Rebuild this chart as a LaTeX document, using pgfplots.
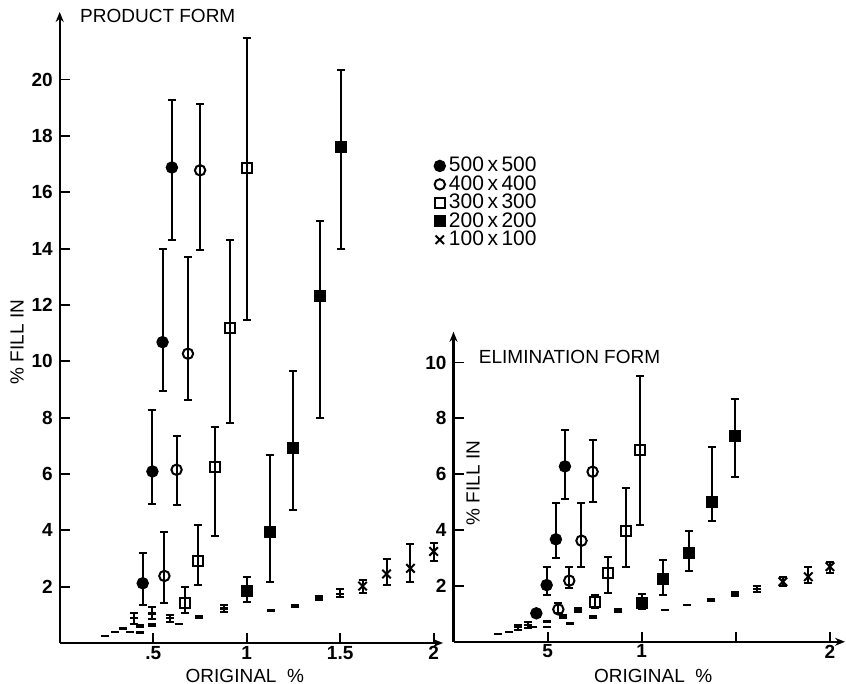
\documentclass[border=0pt]{standalone}
\usepackage{fontspec}
\setmainfont{Liberation Sans}
\usepackage{pgfplots}
\usepackage{pgfplotstable}
\pgfplotsset{compat=1.18}
\usetikzlibrary{arrows.meta}

% left panel: product form
\pgfplotstableread{
x y ep em
0.444 2.12 1.09 0.77
0.496 6.09 2.19 1.15
0.55 10.68 3.32 1.75
0.60 16.88 2.41 2.59
}\La
\pgfplotstableread{
x y ep em
0.56 2.38 1.57 0.97
0.625 6.15 1.20 1.26
0.686 10.27 3.45 1.66
0.751 16.78 2.34 2.84
}\Lb
\pgfplotstableread{
x y ep em
0.671 1.41 0.57 0.36
0.742 2.91 1.28 0.85
0.828 6.24 1.42 2.43
0.912 11.18 3.14 3.38
1.0 16.86 4.60 5.41
}\Lc
\pgfplotstableread{
x y ep em
1.0 1.86 0.50 0.41
1.123 3.95 2.73 1.77
1.25 6.92 2.74 2.20
1.394 12.33 2.66 4.33
1.507 17.61 2.72 3.62
}\Ld
\pgfplotstableread{
x y ep em
1.62 2.02 0.22 0.23
1.748 2.45 0.52 0.39
1.876 2.65 0.87 0.47
2.0 3.25 0.29 0.33
}\Le
\pgfplotstableread{
x y ep em
0.243 0.25 0 0
0.296 0.40 0 0
0.336 0.52 0 0
0.377 0.40 0 0
0.40 0.88 0.17 0.21
0.427 0.37 0 0
0.43 0.60 0.03 0.03
0.496 0.64 0.05 0.05
0.496 1.05 0.24 0.21
0.59 0.88 0.11 0.12
0.636 0.67 0 0
0.746 0.91 0.04 0.04
0.88 1.23 0.12 0.12
1.13 1.15 0 0
1.26 1.31 0.03 0.03
1.385 1.59 0.07 0.07
1.50 1.74 0.17 0.12
}\Lf

% right panel: elimination form
\pgfplotstableread{
x y ep em
0.44 1.02 0.12 0.12
0.495 2.03 0.64 0.35
0.544 3.67 1.29 0.68
0.592 6.28 1.31 1.17
}\Ra
\pgfplotstableread{
x y ep em
0.557 1.16 0.22 0.14
0.615 2.19 0.50 0.27
0.68 3.62 1.34 0.95
0.739 6.09 1.12 1.10
}\Rb
\pgfplotstableread{
x y ep em
0.751 1.44 0.24 0.24
0.822 2.45 0.58 0.71
0.914 3.98 1.52 1.29
0.99 6.87 2.63 2.68
}\Rc
\pgfplotstableread{
x y ep em
1.0 1.40 0.31 0.24
1.114 2.24 0.69 0.56
1.252 3.17 0.81 0.63
1.374 5.00 1.97 0.66
1.495 7.38 1.31 1.48
}\Rd
\pgfplotstableread{
x y ep em
1.75 2.15 0.18 0.17
1.885 2.33 0.34 0.23
2.0 2.69 0.18 0.24
}\Re
\pgfplotstableread{
x y ep em
0.238 0.28 0 0
0.297 0.36 0 0
0.344 0.52 0.08 0.08
0.397 0.60 0.1 0.1
0.424 0.54 0 0
0.495 0.72 0 0
0.495 0.54 0 0
0.583 0.90 0.05 0.05
0.619 0.66 0 0
0.663 1.14 0.08 0.08
0.743 0.88 0.04 0.04
0.876 1.11 0.05 0.05
1.124 1.14 0 0
1.24 1.32 0 0
1.37 1.50 0.03 0.03
1.495 1.71 0.08 0.08
1.614 1.88 0.1 0.1
}\Rf

\pgfplotsset{
  panel/.style={
    scale only axis,
    axis lines=left,
    axis line style={line width=1.1pt, -{Stealth[length=5pt,width=4pt]}},
    tick align=inside,
    major tick length=5pt,
    tick style={line width=0.9pt, black},
    xmin=0,
    ymin=0,
    font=\fontsize{9.5}{11}\selectfont,
    ticklabel style={font=\fontsize{9.5}{11}\selectfont\bfseries},
    xticklabel style={yshift=2pt},
    /pgf/number format/assume math mode=true,
    clip=false,
    legend cell align=left,
    every axis title shift=0pt,
    title style={yshift=0pt, anchor=west, font=\fontsize{9.5}{11}\selectfont},
    xlabel style={yshift=0pt, anchor=center},
    ylabel style={xshift=0pt, anchor=center},
  },
  ebar/.style={
    only marks,
    line width=1pt,
    error bars/y dir=both,
    error bars/y explicit,
    error bars/error bar style={line width=1pt, black},
    error bars/error mark options={rotate=90, mark size=2pt, line width=1pt, black},
  },
  s500/.style={ebar, mark=*, mark size=2.6pt, mark options={fill=black, draw=black}},
  s400/.style={ebar, mark=o, mark size=2.6pt, mark options={fill=white, draw=black, line width=1pt}},
  s300/.style={ebar, mark=square, mark size=2.5pt, mark options={fill=white, draw=black, line width=1pt}},
  s200/.style={ebar, mark=square*, mark size=2.5pt, mark options={fill=black, draw=black}},
  s100/.style={ebar, mark=x, mark size=3pt, mark options={draw=black, line width=1pt}},
  sdash/.style={ebar, mark=-, mark size=2pt, mark options={draw=black, line width=1.2pt}},
}

\begin{document}
\begin{tikzpicture}[x=1pt,y=1pt]
\useasboundingbox (0,0) rectangle (423,342);

\begin{axis}[
  panel,
  at={(29.85pt,20.5pt)}, anchor=origin,
  width=191.65pt, height=315.5pt,
  xmax=2.05, ymax=22.4,
  xtick={0.5,1,1.5,2},
  xticklabels={.5,1,1.5,2},
  ytick={2,4,...,20},
  title={PRODUCT FORM},
  title style={at={(rel axis cs:0.035,0.994)}},
  xlabel={ORIGINAL\ \ \%},
  xlabel style={at={(rel axis cs:0.483,-0.052)}},
  ylabel={\%\ FILL IN},
  ylabel style={at={(rel axis cs:-0.111,0.477)}},
  legend style={at={(rel axis cs:0.977,0.777)}, anchor=north west, draw=none, fill=none,
    font=\fontsize{10.5}{11}\selectfont, row sep=-3.6pt, inner sep=0pt,
    /tikz/every even column/.append style={column sep=3pt}},
  legend image code/.code={\draw[#1] plot coordinates {(0.12cm,0cm)};},
]
\addplot[s500] table[x=x,y=y,y error plus=ep,y error minus=em]{\La};
\addplot[s400] table[x=x,y=y,y error plus=ep,y error minus=em]{\Lb};
\addplot[s300] table[x=x,y=y,y error plus=ep,y error minus=em]{\Lc};
\addplot[s200] table[x=x,y=y,y error plus=ep,y error minus=em]{\Ld};
\addplot[s100] table[x=x,y=y,y error plus=ep,y error minus=em]{\Le};
\addplot[sdash, forget plot] table[x=x,y=y,y error plus=ep,y error minus=em]{\Lf};
\legend{500\,x\,500, 400\,x\,400, 300\,x\,300, 200\,x\,200, 100\,x\,100}
\end{axis}

\begin{axis}[
  panel,
  at={(226.75pt,21.1pt)}, anchor=origin,
  width=195.75pt, height=155pt,
  xmax=2.08, ymax=11.1,
  xtick={0.5,1,1.5,2},
  xticklabels={5,1,,2},
  ytick={2,4,...,10},
  title={ELIMINATION FORM},
  title style={at={(rel axis cs:0.047,0.919)}},
  xlabel={ORIGINAL\ \ \%},
  xlabel style={at={(rel axis cs:0.51,-0.110)}},
  ylabel={\%\ FILL IN},
  ylabel style={at={(rel axis cs:0.05,0.512)}},
]
\addplot[s500] table[x=x,y=y,y error plus=ep,y error minus=em]{\Ra};
\addplot[s400] table[x=x,y=y,y error plus=ep,y error minus=em]{\Rb};
\addplot[s300] table[x=x,y=y,y error plus=ep,y error minus=em]{\Rc};
\addplot[s200] table[x=x,y=y,y error plus=ep,y error minus=em]{\Rd};
\addplot[s100] table[x=x,y=y,y error plus=ep,y error minus=em]{\Re};
\addplot[sdash] table[x=x,y=y,y error plus=ep,y error minus=em]{\Rf};
\end{axis}
\end{tikzpicture}
\end{document}
